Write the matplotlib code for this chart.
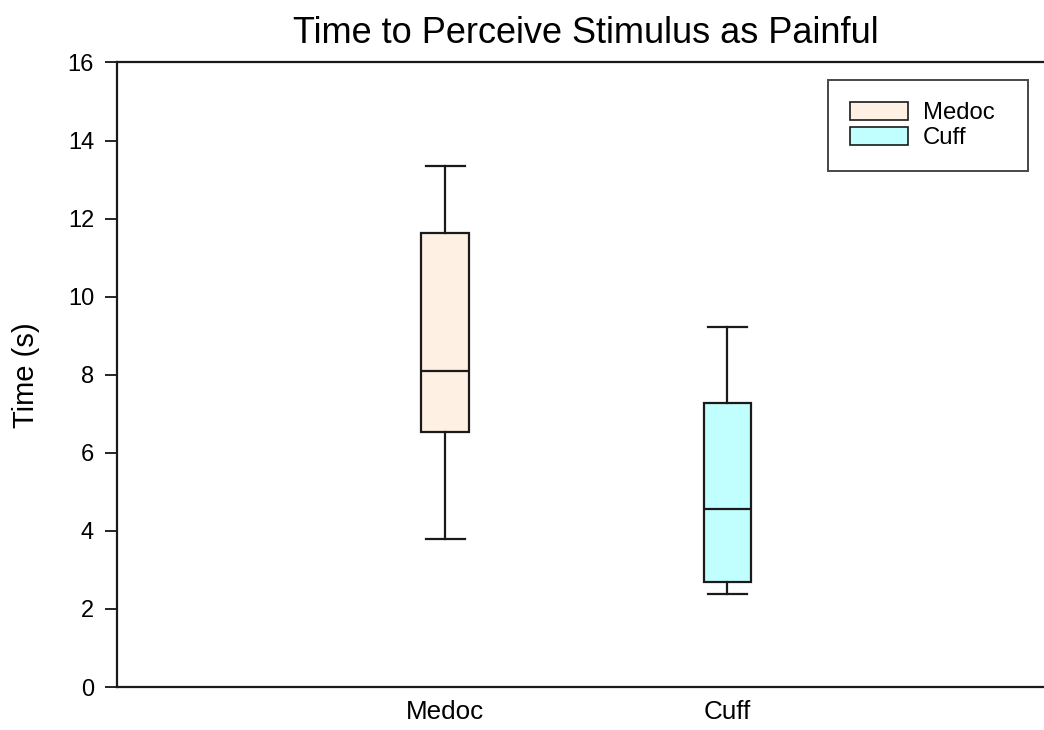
import matplotlib.pyplot as plt
from matplotlib.patches import Patch

plt.rcParams['font.family'] = ['Liberation Sans', 'DejaVu Sans']

groups = ['Medoc', 'Cuff']
whisker_low = [3.79, 2.38]
q1 = [6.54, 2.69]
median = [8.09, 4.57]
q3 = [11.64, 7.27]
whisker_high = [13.35, 9.22]
colors = ['#FEF0E2', '#C1FEFE']

stats = []
for i in range(len(groups)):
    stats.append({'label': groups[i], 'whislo': whisker_low[i], 'q1': q1[i],
                  'med': median[i], 'q3': q3[i], 'whishi': whisker_high[i],
                  'fliers': []})

fig = plt.figure(figsize=(10.44, 7.3), dpi=100)
ax = fig.add_axes([0.112, 0.0589, 0.898, 0.8555])

line = dict(color='#1a1a1a', linewidth=1.6)
bp = ax.bxp(stats, positions=[1, 2], widths=0.167, capwidths=0.138,
            patch_artist=True, showfliers=False,
            boxprops=dict(edgecolor='#1a1a1a', linewidth=1.6),
            medianprops=line, whiskerprops=line, capprops=line)
for box, c in zip(bp['boxes'], colors):
    box.set_facecolor(c)

ax.set_xlim(-0.163, 3.16)
ax.set_ylim(0, 16)
ax.set_yticks(range(0, 17, 2))
ax.tick_params(axis='y', direction='out', length=8.5, width=1.2, labelsize=17, pad=8)
ax.tick_params(axis='x', length=0, labelsize=18.7, pad=9)
for s in ax.spines.values():
    s.set_linewidth(1.6)
    s.set_color('#1a1a1a')

ax.set_ylabel('Time (s)', fontsize=21, labelpad=20)
ax.set_title('Time to Perceive Stimulus as Painful', fontsize=26, pad=14)

handles = [Patch(facecolor=colors[i], edgecolor='#1a1a1a', linewidth=1.2, label=groups[i])
           for i in range(len(groups))]
leg = ax.legend(handles=handles, loc='upper left',
                bbox_to_anchor=(0.7584, 0.9723, 0.2133, 0.0), mode='expand',
                fontsize=17.2, frameon=True, fancybox=False, edgecolor='#1a1a1a',
                handlelength=2.45, handleheight=0.78, handletextpad=0.6,
                labelspacing=0.13, borderpad=0.92, borderaxespad=0)
leg.get_frame().set_linewidth(1.4)

fig.savefig('out.png')
